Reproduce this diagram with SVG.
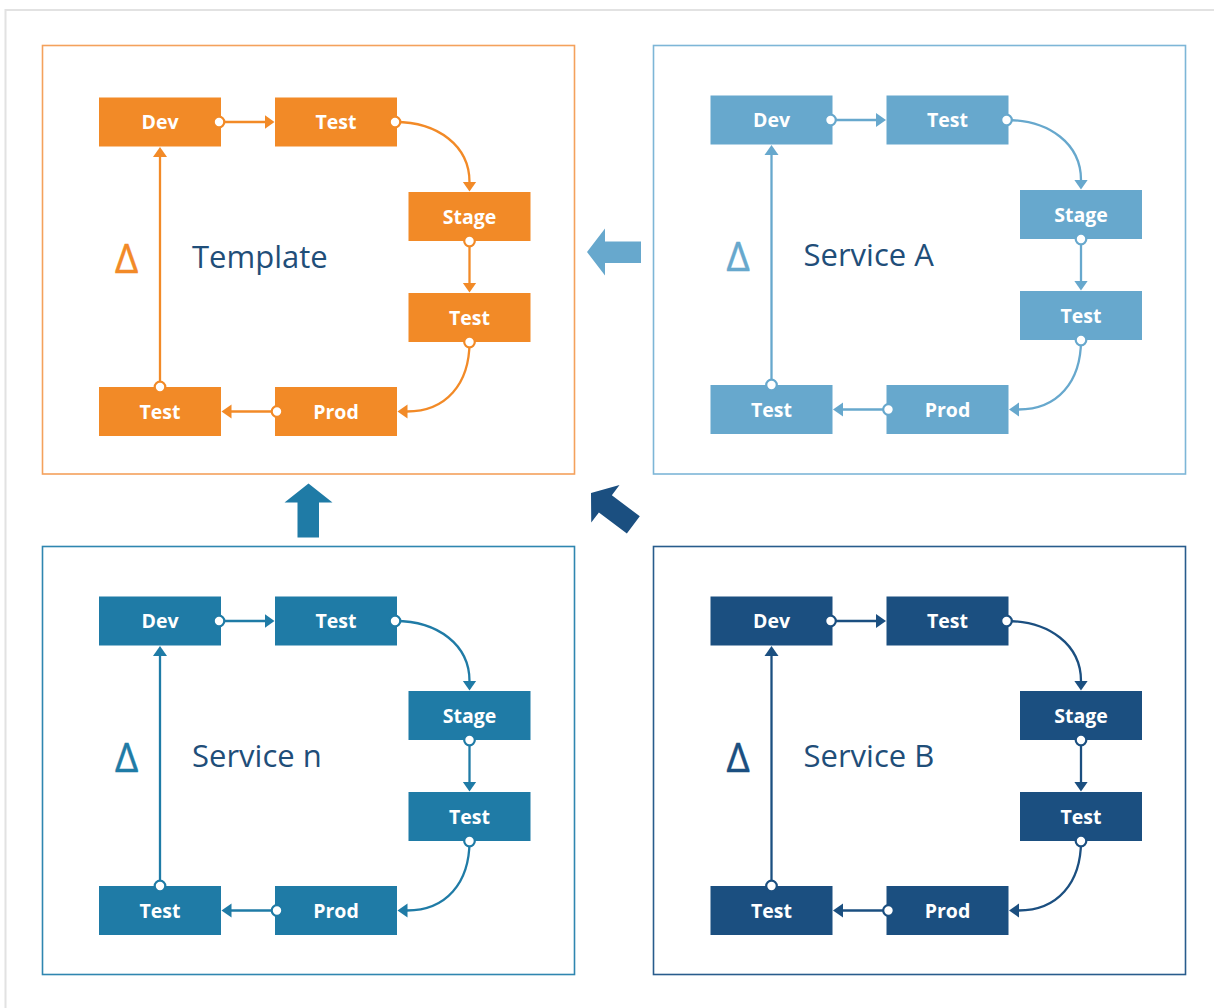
<svg xmlns="http://www.w3.org/2000/svg" width="1214" height="1008" viewBox="0 0 1214 1008">
  <style>
    .frame { fill: none; stroke-width: 1.6; }
    .node text { font-family: "Open Sans", "Liberation Sans", sans-serif; font-weight: 700; font-size: 19.5px; fill: #ffffff; text-anchor: middle; }
    .title { font-family: "Open Sans", "Liberation Sans", sans-serif; font-size: 31px; fill: #1F4E79; }
    .delta { font-family: "Open Sans", "Liberation Sans", sans-serif; font-size: 41px; text-anchor: middle; stroke-width: 0.35; }
    .edge { fill: none; stroke-width: 2.3; }
    .dot { fill: #ffffff; stroke-width: 2.2; }

    /* colour of each pipeline: fills inherit into the shared stage boxes,
       strokes and markers inherit into the shared connectors */
    use.n-or, .d-or { fill: #F28A27; }
    use.n-lb, .d-lb { fill: #67A8CD; }
    use.n-mb, .d-mb { fill: #1F7BA6; }
    use.n-db, .d-db { fill: #1B4F80; }
    .d-or { stroke: #F28A27; }
    .d-lb { stroke: #67A8CD; }
    .d-mb { stroke: #1F7BA6; }
    .d-db { stroke: #1B4F80; }
    use.c-or { stroke: #F28A27; marker-end: url(#arr-or); }
    use.c-lb { stroke: #67A8CD; marker-end: url(#arr-lb); }
    use.c-mb { stroke: #1F7BA6; marker-end: url(#arr-mb); }
    use.c-db { stroke: #1B4F80; marker-end: url(#arr-db); }
  </style>

  <defs>
    <!-- arrowheads, drawn beyond the end of the path -->
    <marker id="arr-or" viewBox="0 -8 11 16" refX="0.5" refY="0" markerWidth="11" markerHeight="16" markerUnits="userSpaceOnUse" orient="auto"><path d="M0,-7 L10,0 L0,7 z" fill="#F28A27" stroke="none"/></marker>
    <marker id="arr-lb" viewBox="0 -8 11 16" refX="0.5" refY="0" markerWidth="11" markerHeight="16" markerUnits="userSpaceOnUse" orient="auto"><path d="M0,-7 L10,0 L0,7 z" fill="#67A8CD" stroke="none"/></marker>
    <marker id="arr-mb" viewBox="0 -8 11 16" refX="0.5" refY="0" markerWidth="11" markerHeight="16" markerUnits="userSpaceOnUse" orient="auto"><path d="M0,-7 L10,0 L0,7 z" fill="#1F7BA6" stroke="none"/></marker>
    <marker id="arr-db" viewBox="0 -8 11 16" refX="0.5" refY="0" markerWidth="11" markerHeight="16" markerUnits="userSpaceOnUse" orient="auto"><path d="M0,-7 L10,0 L0,7 z" fill="#1B4F80" stroke="none"/></marker>

    <!-- one pipeline cycle: six stages -->
    <g id="stages">
      <g class="node" id="dev"><rect x="99" y="97.5" width="122" height="49"/><text x="160" y="129">Dev</text></g>
      <g class="node" id="test1"><rect x="275" y="97.5" width="122" height="49"/><text x="336" y="129">Test</text></g>
      <g class="node" id="stage"><rect x="408.5" y="192" width="122" height="49"/><text x="469.5" y="223.5">Stage</text></g>
      <g class="node" id="test2"><rect x="408.5" y="293" width="122" height="49"/><text x="469.5" y="324.5">Test</text></g>
      <g class="node" id="test3"><rect x="99" y="387" width="122" height="49"/><text x="160" y="418.5">Test</text></g>
      <g class="node" id="prod"><rect x="275" y="387" width="122" height="49"/><text x="336" y="418.5">Prod</text></g>
    </g>
    <!-- the connectors between those stages, each leaving from an open port -->
    <g id="cycle">
      <path class="edge" d="M219,122 L265,122"/>
      <path class="edge" d="M395,122 C438,122 469.5,146 469.5,182"/>
      <path class="edge" d="M469.5,241 L469.5,283"/>
      <path class="edge" d="M469.5,342 C469.5,384 446,411.5 407,411.5"/>
      <path class="edge" d="M277,411.5 L231,411.5"/>
      <path class="edge" d="M160,387 L160,156.5"/>
      <circle class="dot" cx="219" cy="122" r="5.3"/>
      <circle class="dot" cx="395" cy="122" r="5.3"/>
      <circle class="dot" cx="469.5" cy="241" r="5.3"/>
      <circle class="dot" cx="469.5" cy="342" r="5.3"/>
      <circle class="dot" cx="277" cy="411.5" r="5.3"/>
      <circle class="dot" cx="160" cy="387" r="5.3"/>
    </g>
  </defs>

  <rect width="1214" height="1008" fill="#ffffff"/>
  <!-- page border -->
  <rect x="5.5" y="10" width="1220" height="1010" fill="none" stroke="#e2e2e2" stroke-width="2"/>

  <!-- Template -->
  <g id="template">
    <rect class="frame" x="42.5" y="45.5" width="532" height="428.5" stroke="#F4A15C"/>
    <text class="delta d-or" x="126.5" y="272.5">Δ</text>
    <text class="title" x="192" y="267.5">Template</text>
    <use class="n-or" href="#stages"/>
  </g>

  <!-- Service A -->
  <g id="service-a">
    <rect class="frame" x="653.5" y="45.5" width="532" height="428.5" stroke="#7DB6D7"/>
    <g transform="translate(611.5,-2)">
      <text class="delta d-lb" x="126.5" y="272.5">Δ</text>
      <text class="title" x="192" y="267.5">Service A</text>
      <use class="n-lb" href="#stages"/>
    </g>
  </g>

  <!-- Service n -->
  <g id="service-n">
    <rect class="frame" x="42.5" y="546.5" width="532" height="428" stroke="#2F86B0"/>
    <g transform="translate(0,499)">
      <text class="delta d-mb" x="126.5" y="272.5">Δ</text>
      <text class="title" x="192" y="267.5">Service n</text>
      <use class="n-mb" href="#stages"/>
    </g>
  </g>

  <!-- Service B -->
  <g id="service-b">
    <rect class="frame" x="653.5" y="546.5" width="532" height="428" stroke="#285C8C"/>
    <g transform="translate(611.5,499)">
      <text class="delta d-db" x="126.5" y="272.5">Δ</text>
      <text class="title" x="192" y="267.5">Service B</text>
      <use class="n-db" href="#stages"/>
    </g>
  </g>

  <!-- connectors -->
  <g id="connectors">
    <use class="c-or" href="#cycle"/>
    <use class="c-lb" href="#cycle" transform="translate(611.5,-2)"/>
    <use class="c-mb" href="#cycle" transform="translate(0,499)"/>
    <use class="c-db" href="#cycle" transform="translate(611.5,499)"/>

    <!-- block arrows feeding the template -->
    <path id="from-a" d="M587,252 L605,228.5 L605,241.5 L641,241.5 L641,263 L605,263 L605,275.5 Z" fill="#67A8CD"/>
    <path id="from-n" d="M308.5,483.5 L332.5,502.5 L319,502.5 L319,537.5 L297.5,537.5 L297.5,502.5 L284.5,502.5 Z" fill="#1F7BA6"/>
    <path id="from-b" transform="translate(591,493) rotate(37)" d="M0,0 L18,-23.5 L18,-10.75 L53,-10.75 L53,10.75 L18,10.75 L18,23.5 Z" fill="#1B4F80"/>
  </g>
</svg>
